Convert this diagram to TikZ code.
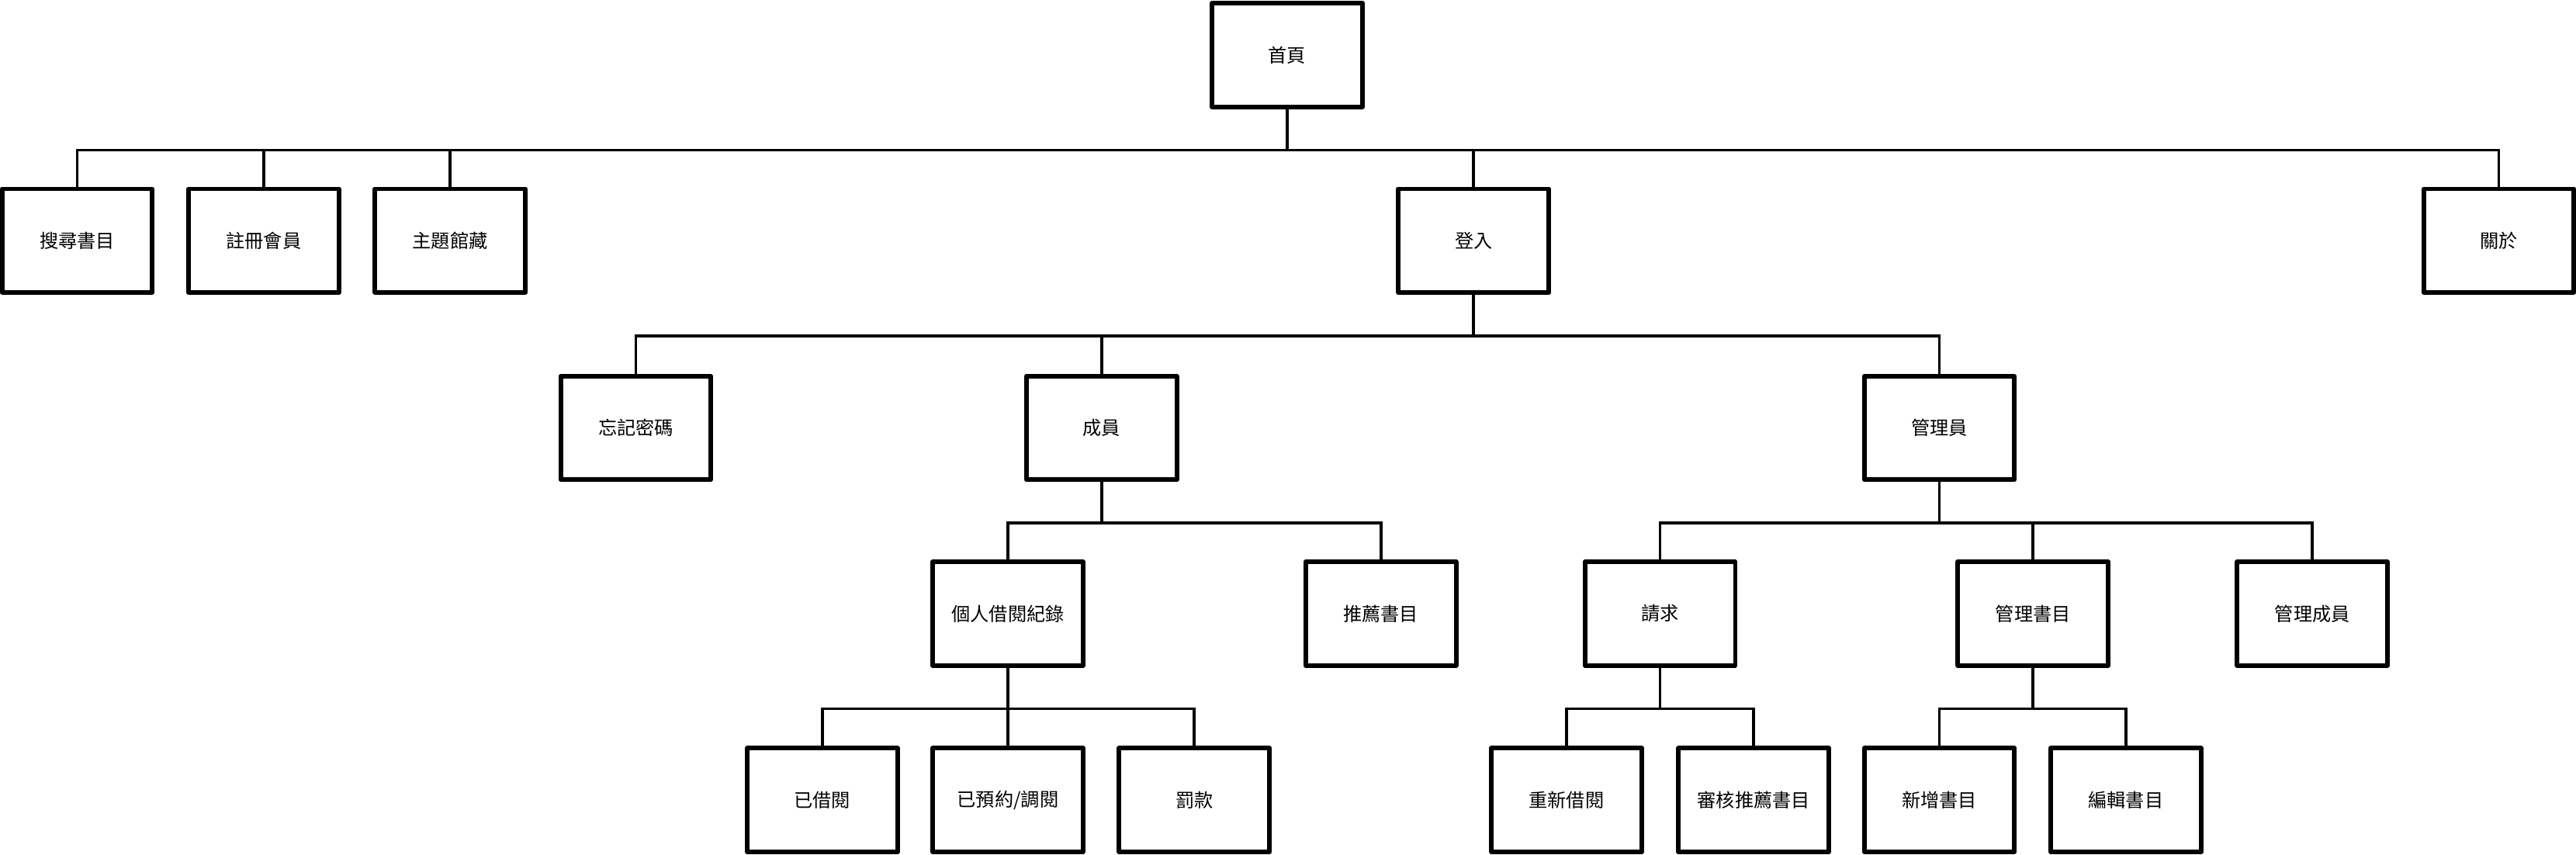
\documentclass[tikz,border=0pt]{standalone}
\usepackage{fontspec}
\newfontfamily\cjk{Noto Sans CJK TC}

\begin{document}
\begin{tikzpicture}[line width=1pt,every node/.style={draw,line width=1.6pt,line join=round,minimum width=1.83cm,minimum height=1.26cm,inner sep=0pt,font=\cjk\fontsize{6.5}{8}\selectfont}]
\useasboundingbox (0,0) rectangle (31.36,-10.4);
\node (A) at (15.67,-0.67) {首頁};

\node (B) at (0.94,-2.93) {搜尋書目};
\node (C) at (3.21,-2.93) {註冊會員};
\node (D) at (5.48,-2.93) {主題館藏};
\node (E) at (17.94,-2.93) {登入};
\node (F) at (30.42,-2.93) {關於};

\node (G) at (7.74,-5.21) {忘記密碼};
\node (H) at (13.41,-5.21) {成員};
\node (I) at (23.61,-5.21) {管理員};

\node (J) at (12.27,-7.47) {個人借閱紀錄};
\node (K) at (16.81,-7.47) {推薦書目};
\node (L) at (20.21,-7.47) {請求};
\node (M) at (24.75,-7.47) {管理書目};
\node (N) at (28.15,-7.47) {管理成員};

\node (O) at (10.01,-9.74) {已借閱};
\node (P) at (12.27,-9.74) {已預約/調閱};
\node (Q) at (14.54,-9.74) {罰款};
\node (R) at (19.07,-9.74) {重新借閱};
\node (S) at (21.35,-9.74) {審核推薦書目};
\node (T) at (23.61,-9.74) {新增書目};
\node (U) at (25.88,-9.74) {編輯書目};

\foreach \c in {B,C,D,E,F} \draw (A.south) -- ++(0,-0.5) -| (\c.north);
\foreach \c in {G,H,I} \draw (E.south) -- ++(0,-0.5) -| (\c.north);
\foreach \c in {J,K} \draw (H.south) -- ++(0,-0.5) -| (\c.north);
\foreach \c in {L,M,N} \draw (I.south) -- ++(0,-0.5) -| (\c.north);
\foreach \c in {O,P,Q} \draw (J.south) -- ++(0,-0.5) -| (\c.north);
\foreach \c in {R,S} \draw (L.south) -- ++(0,-0.5) -| (\c.north);
\foreach \c in {T,U} \draw (M.south) -- ++(0,-0.5) -| (\c.north);
\end{tikzpicture}
\end{document}
